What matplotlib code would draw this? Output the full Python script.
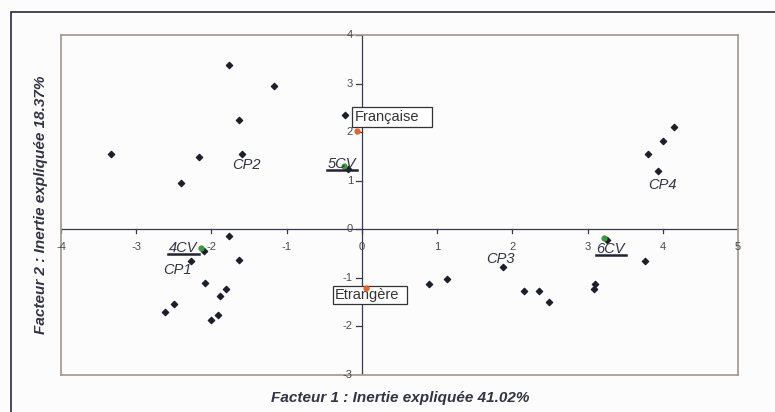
import matplotlib
matplotlib.use('Agg')
import matplotlib.pyplot as plt
from matplotlib.patches import Rectangle
from matplotlib.lines import Line2D

plt.rcParams['font.family'] = ['Liberation Sans', 'DejaVu Sans']

# individus (points noirs)
ind_x = [-3.34, -1.77, -1.17, -1.63, -2.16, -1.60, -2.40, -0.22, -0.19,
         4.15, 4.00, 3.81, 3.93,
         -1.77, -2.10, -2.27, -1.64, -2.08, -1.80, -1.89, -2.50, -2.62, -1.91, -2.00,
         0.89, 1.13, 1.88, 2.16, 2.36, 2.49, 3.10, 3.09, 3.77, 3.26]
ind_y = [1.55, 3.38, 2.95, 2.24, 1.49, 1.56, 0.96, 2.35, 1.24,
         2.10, 1.81, 1.55, 1.20,
         -0.13, -0.44, -0.65, -0.63, -1.10, -1.23, -1.38, -1.53, -1.70, -1.77, -1.86,
         -1.12, -1.03, -0.77, -1.27, -1.27, -1.49, -1.12, -1.23, -0.66, -0.23]

# modalites nationalite (orange)
nat_names = ['Française', 'Etrangère']
nat_x = [-0.07, 0.05]
nat_y = [2.03, -1.21]

# modalites CV (vert)
cv_names = ['5CV', '4CV', '6CV']
cv_x = [-0.235, -2.14, 3.22]
cv_y = [1.31, -0.39, -0.17]

# etiquettes CP
cp_names = ['CP1', 'CP2', 'CP3', 'CP4']
cp_x = [-2.45, -1.53, 1.84, 4.0]
cp_y = [-0.83, 1.33, -0.61, 0.92]

fig = plt.figure(figsize=(7.75, 4.12), dpi=100)
fig.patch.set_facecolor('#fcfcfc')
fig.patches.append(Rectangle((11/775, -0.1), 1.2, 1 - 12/412 + 0.1, transform=fig.transFigure,
                             fill=False, edgecolor='#2a2a3a', linewidth=1.2))

ax = fig.add_axes([61/775, 37/412, 677/775, 340/412])
ax.set_facecolor('#fcfcfc')
ax.set_xlim(-4, 5)
ax.set_ylim(-3, 4)
for s in ax.spines.values():
    s.set_color('#a0968e')
    s.set_linewidth(1.2)
ax.set_xticks([])
ax.set_yticks([])

# axes a travers l'origine
ax.axhline(0, color='#3a3a48', linewidth=0.9)
ax.axvline(0, color='#3a3a48', linewidth=0.9)
for t in range(-4, 6):
    ax.plot([t, t], [0, -0.07], color='#3a3a48', linewidth=0.9)
    ax.text(t, -0.36, str(t), ha='center', va='center', fontsize=8, color='#4a4a4a')
for t in range(-3, 5):
    ax.plot([0, -0.08], [t, t], color='#3a3a48', linewidth=0.9)
    ax.text(-0.12, t, str(t), ha='right', va='center', fontsize=8, color='#4a4a4a')

ax.scatter(ind_x, ind_y, marker='D', s=10, color='#1e1e2a', zorder=3)
ax.scatter(nat_x, nat_y, marker='o', s=12, color='#e8622a', zorder=7)
ax.scatter(cv_x, cv_y, marker='o', s=12, color='#3d9a3d', zorder=4)

# cadres des modalites nationalite
ax.add_patch(Rectangle((-0.133, 2.11), 1.063, 0.41, facecolor='white', edgecolor='#333333',
                       linewidth=0.9, zorder=5))
ax.add_patch(Rectangle((-0.386, -1.53), 0.986, 0.37, facecolor='white', edgecolor='#333333',
                       linewidth=0.9, zorder=5))
ax.text(-0.093, 2.31, nat_names[0], ha='left', va='center', fontsize=10.5, color='#333333', zorder=6)
ax.text(-0.36, -1.35, nat_names[1], ha='left', va='center', fontsize=10.5, color='#333333', zorder=6)

cv_off = [(-0.03, 0.04), (-0.23, 0.0), (0.09, -0.24)]
cv_texts = []
for name, x, y, (dx, dy) in zip(cv_names, cv_x, cv_y, cv_off):
    cv_texts.append(ax.text(x + dx, y + dy, name, ha='center', va='center', fontsize=10.5,
                            style='italic', color='#333344', zorder=5))

for name, x, y in zip(cp_names, cp_x, cp_y):
    ax.text(x, y, name, ha='center', va='center', fontsize=10.5, style='italic', color='#333344')

fig.text(400/775, 1 - 398/412, 'Facteur 1 : Inertie expliquée 41.02%', ha='center', va='center',
         fontsize=11, fontweight='bold', style='italic', color='#333344')
fig.text(41/775, 1 - 205/412, 'Facteur 2 : Inertie expliquée 18.37%', ha='center', va='center',
         rotation=90, fontsize=11, fontweight='bold', style='italic', color='#333344')

# soulignement des etiquettes CV
fig.canvas.draw()
r = fig.canvas.get_renderer()
for t in cv_texts:
    bb = t.get_window_extent(r)
    fig.lines.append(Line2D([bb.x0 - 1, bb.x1 + 1], [bb.y0 + 1, bb.y0 + 1], transform=None,
                            color='#222233', linewidth=1.8))

fig.savefig('out.png', dpi=100, facecolor=fig.get_facecolor())
